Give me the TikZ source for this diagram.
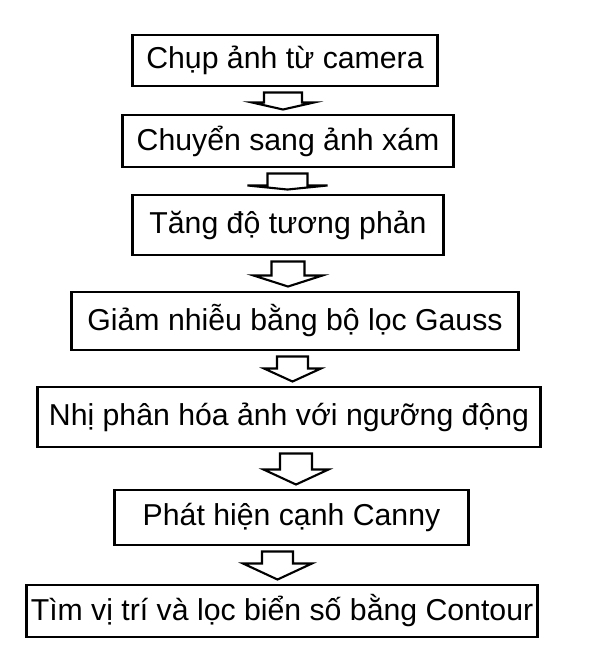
\documentclass[tikz,border=0pt]{standalone}
\usepackage{fontspec}
\setmainfont{Liberation Sans}
\usepackage{tikz}
\usetikzlibrary{positioning, calc}

\tikzset{
  stepbox/.style = {draw, line width = 2.1pt, inner sep = 0pt, font = \fontsize{21.5}{26}\selectfont},
  arrowline/.style = {draw, line width = 1.5pt, fill = white, line join = miter}
}

\begin{document}
\begin{tikzpicture}[x = 0.025cm, y = -0.025cm]
\useasboundingbox (0, 0) rectangle (590, 651);
\node[stepbox, minimum width = 7.6cm, minimum height = 1.275cm] at (285, 60.5) (capture) {Chụp ảnh từ camera};
\node[stepbox, minimum width = 8.25cm, minimum height = 1.3cm] at (288, 141) (gray) {Chuyển sang ảnh xám};
\node[stepbox, minimum width = 7.75cm, minimum height = 1.5cm] at (288, 225) (contrast) {Tăng độ tương phản};
\node[stepbox, minimum width = 11.15cm, minimum height = 1.45cm] at (295, 321) (gauss) {Giảm nhiễu bằng bộ lọc Gauss};
\node[stepbox, minimum width = 12.55cm, minimum height = 1.5cm] at (289, 417) (binary) {Nhị phân hóa ảnh với ngưỡng động};
\node[stepbox, minimum width = 8.825cm, minimum height = 1.375cm] at (291.5, 517.5) (canny) {Phát hiện cạnh Canny};
\node[stepbox, minimum width = 12.75cm, minimum height = 1.3cm] at (282, 611) (contour) {Tìm vị trí và lọc biển số bằng Contour};
% block arrows: from / to / x / shaft / wing / drop
\foreach \a\b\x\s\w\d in {capture/gray/283/19/31/10, gray/contrast/287.5/20/40/12, contrast/gauss/288/16.5/34.5/14,
  gauss/binary/292.5/15.5/28.5/12, binary/canny/296/16/32.5/16, canny/contour/277.5/15.5/34.5/12}{
  \coordinate (t) at (\x, 0 |- \a.south);
  \coordinate (h) at (\x, 0 |- \b.north);
  \draw[arrowline] ($(t) + (-\s, 5)$) -- ($(t) + (\s, 5)$) -- ($(t) + (\s, 5 + \d)$) -- ($(t) + (\w, 5 + \d)$)
    -- ($(h) + (0, -4)$) -- ($(t) + (-\w, 5 + \d)$) -- ($(t) + (-\s, 5 + \d)$) -- cycle;
}
\end{tikzpicture}
\end{document}
